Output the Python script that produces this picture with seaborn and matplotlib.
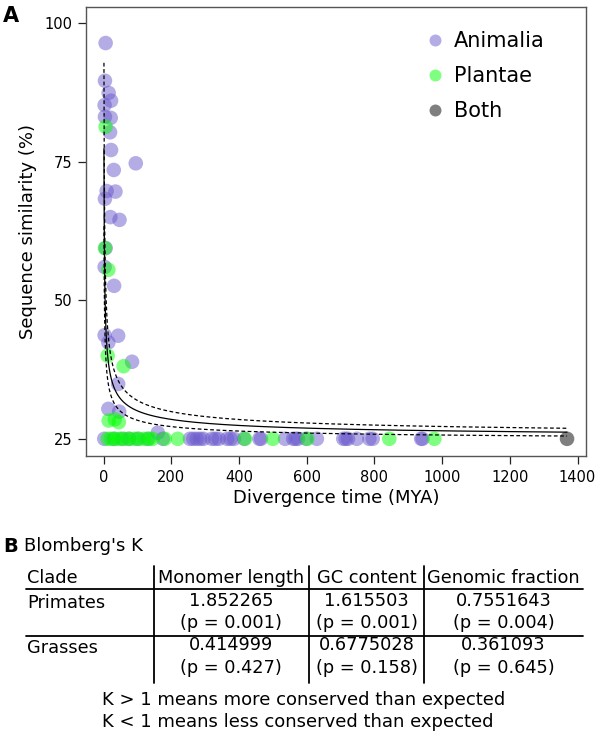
import matplotlib
matplotlib.use("Agg")
import numpy as np
import pandas as pd
import seaborn as sns
import matplotlib.pyplot as plt

sns.set_theme(style="white")
plt.rcParams["font.family"] = ["DejaVu Sans"]
plt.rcParams["text.color"] = "black"
plt.rcParams["axes.labelcolor"] = "black"
plt.rcParams["xtick.color"] = "black"
plt.rcParams["ytick.color"] = "black"

# ---------------- data ----------------
animalia_x = [6, 4, 15, 22, 3, 4, 21, 19, 22, 95, 30, 9, 35, 4, 20, 47, 6, 3, 31,
              3, 43, 14, 84, 43, 14, 46, 160,
              2, 30, 55, 75, 100, 130, 175, 255, 265, 275, 285, 295, 320, 330, 340,
              365, 375, 385, 415, 460, 465, 536, 560, 567, 574, 598, 630, 708, 715,
              722, 748, 785, 795, 938, 942]
animalia_y = [96.4, 89.6, 87.4, 86.0, 85.2, 83.1, 82.9, 80.3, 77.1, 74.7, 73.5, 69.7,
              69.6, 68.3, 65.0, 64.5, 59.4, 56.0, 52.6, 43.7, 43.6, 42.4, 38.9, 34.9,
              30.4, 29.9, 26.1,
              25, 25, 25, 25, 25, 25, 25, 25, 25, 25, 25, 25, 25, 25, 25,
              25, 25, 25, 25, 25, 25, 25, 25, 25, 25, 25, 25, 25, 25,
              25, 25, 25, 25, 25, 25]
plantae_x = [6, 4, 14, 12, 59, 15, 33, 45,
             12, 22, 35, 46, 61, 75, 90, 105, 120, 135, 145, 181, 219, 418, 500, 602,
             844, 977]
plantae_y = [81.3, 59.4, 55.5, 40.0, 38.1, 28.3, 28.5, 28.0,
             25, 25, 25, 25, 25, 25, 25, 25, 25, 25, 25, 25, 25, 25, 25, 25,
             25, 25]
both_x = [1369]
both_y = [25]

clades = ["Animalia", "Plantae", "Both"]

# fitted model y = a + b / sqrt(x) (solid) with its band (dashed)
fit_a, fit_b = 24.78, 52.6
upper_a, upper_b = 25.05, 68.6
lower_a, lower_b = 24.45, 38.9
fit_xmin, fit_xmax, fit_ycap = 1.0, 1369, 93.0

# table
table_cols = ["Clade", "Monomer length", "GC content", "Genomic fraction"]
table_rows = ["Primates", "Grasses"]
table_k = [["1.852265", "1.615503", "0.7551643"],
           ["0.414999", "0.6775028", "0.361093"]]
table_p = [["0.001", "0.001", "0.004"],
           ["0.427", "0.158", "0.645"]]
notes = ["K > 1 means more conserved than expected",
         "K < 1 means less conserved than expected"]

# ---------------- figure ----------------
W, H = 600, 734
fig = plt.figure(figsize=(W / 100, H / 100), dpi=100)


def fx(px):
    return px / W


def fy(py):
    return 1 - py / H


ax = fig.add_axes([fx(86), fy(456), (586 - 86) / W, (456 - 7) / H])

df = pd.DataFrame({
    "x": animalia_x + plantae_x + both_x,
    "y": animalia_y + plantae_y + both_y,
    "clade": (["Animalia"] * len(animalia_x) + ["Plantae"] * len(plantae_x)
              + ["Both"] * len(both_x)),
})
palette = {"Animalia": "#6A5ACD", "Plantae": "#00FF00", "Both": "#000000"}
sns.scatterplot(data=df, x="x", y="y", hue="clade", hue_order=clades,
                palette=palette, alpha=0.5, s=110, linewidth=0, ax=ax, zorder=2)

xs = np.geomspace(fit_xmin, fit_xmax, 600)
for a, b, ls in [(fit_a, fit_b, "-"), (upper_a, upper_b, (0, (3, 2))),
                 (lower_a, lower_b, (0, (3, 2)))]:
    ys = a + b / np.sqrt(xs)
    m = ys <= fit_ycap
    ax.plot(xs[m], ys[m], color="black", lw=0.9, ls=ls, zorder=3)

ax.set_xlim(-52, 1425)
ax.set_ylim(21.9, 102.9)
ax.set_xticks([0, 200, 400, 600, 800, 1000, 1200, 1400])
ax.set_yticks([25, 50, 75, 100])
ax.set_xlabel("Divergence time (MYA)", fontsize=13, labelpad=3)
ax.set_ylabel("Sequence similarity (%)", fontsize=13, labelpad=5)
ax.tick_params(axis="both", which="major", length=6, width=0.9, direction="out",
               labelsize=10.5, pad=4, color="#222222", bottom=True, left=True)
for sp in ax.spines.values():
    sp.set_color("#555555")
    sp.set_linewidth(1.0)

handles, labels = ax.get_legend_handles_labels()
for h in handles:
    h.set_alpha(0.5)
ax.legend(handles, labels, loc="upper left", frameon=False, fontsize=15,
          bbox_to_anchor=(fx(425), fy(31)), bbox_transform=fig.transFigure,
          borderpad=0, borderaxespad=0, handlelength=1.0, handletextpad=0.4,
          labelspacing=0.72, markerscale=0.82)

fig.text(fx(3), fy(16), "A", fontsize=15, fontweight="bold", va="center", ha="left")

# ---------------- panel B: table ----------------
FS = 12.8
fig.text(fx(3), fy(547), "B", fontsize=14, fontweight="bold", va="center", ha="left")
fig.text(fx(24), fy(546), "Blomberg's K", fontsize=13, va="center", ha="left")

col_edges = [26, 153.5, 309, 424, 583]
col_centers = [(col_edges[i] + col_edges[i + 1]) / 2 for i in range(4)]
header_y = 578
fig.text(fx(27), fy(header_y), table_cols[0], fontsize=FS, va="center", ha="left")
for j in range(1, 4):
    fig.text(fx(col_centers[j]), fy(header_y), table_cols[j], fontsize=FS,
             va="center", ha="center")

row_label_y = [603, 648]
row_k_y = [601, 645]
row_p_y = [623, 668]
for i, r in enumerate(table_rows):
    fig.text(fx(27), fy(row_label_y[i]), r, fontsize=FS, va="center", ha="left")
    for j in range(3):
        fig.text(fx(col_centers[j + 1]), fy(row_k_y[i]), table_k[i][j], fontsize=FS,
                 va="center", ha="center")
        fig.text(fx(col_centers[j + 1]), fy(row_p_y[i]), f"(p = {table_p[i][j]})",
                 fontsize=FS, va="center", ha="center")

lines = [((26, 583), (589, 589)), ((26, 583), (636, 636))]
for x0x1, y0y1 in lines:
    fig.add_artist(plt.Line2D([fx(x0x1[0]), fx(x0x1[1])], [fy(y0y1[0]), fy(y0y1[1])],
                              color="black", lw=1.3, transform=fig.transFigure))
for xe in col_edges[1:4]:
    fig.add_artist(plt.Line2D([fx(xe), fx(xe)], [fy(566), fy(683)], color="black",
                              lw=1.3, transform=fig.transFigure))

fig.text(fx(102), fy(700), notes[0], fontsize=13, va="center", ha="left")
fig.text(fx(102), fy(722), notes[1], fontsize=13, va="center", ha="left")

fig.savefig("out.png", dpi=100)
